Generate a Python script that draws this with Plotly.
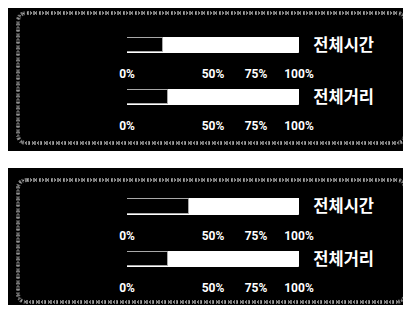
import plotly.graph_objects as go

# ---- data ----
categories = ["전체시간", "전체거리"]
panel1_values = [21, 24]
panel2_values = [36, 24]
full_value = 100
tick_vals = [0, 50, 75, 100]
tick_labels = ["0%", "50%", "75%", "100%"]

# page body margin offset (8px) -> figure sized to fit the 411x309 window
OX, OY = 8, 8
W, H = 411 - OX, 309 - OY

def px(x):
    return (x - OX) / W

def py(y):
    return 1 - (y - OY) / H

# bar pixel rows (top, bottom) in screenshot coordinates
bar_rows = [(37, 53), (89, 105), (198, 215), (251, 267)]
values = panel1_values + panel2_values
labels = categories + categories

fig = go.Figure()
tick_font = dict(family="Roboto, sans-serif", size=12, color="white", weight="bold")
label_font = dict(family="Noto Sans CJK KR, sans-serif", size=16.5, color="white", weight="bold")

for i, (val, lab, (t, b)) in enumerate(zip(values, labels, bar_rows)):
    n = i + 1
    xa = "x" if n == 1 else f"x{n}"
    ya = "y" if n == 1 else f"y{n}"
    fig.add_trace(go.Bar(x=[full_value], y=[lab], orientation="h", xaxis=xa, yaxis=ya,
                         marker=dict(color="white", line=dict(color="white", width=1)),
                         width=1, cliponaxis=False, showlegend=False, hoverinfo="skip"))
    fig.add_trace(go.Bar(x=[val], y=[lab], orientation="h", xaxis=xa, yaxis=ya,
                         marker=dict(color="black", line=dict(color="#a8a8a8", width=1)),
                         width=0.92, cliponaxis=False, showlegend=False, hoverinfo="skip"))
    xk = "xaxis" if n == 1 else f"xaxis{n}"
    yk = "yaxis" if n == 1 else f"yaxis{n}"
    fig.layout[xk] = dict(domain=[px(127), px(299)], range=[0, 100], anchor=ya,
                          tickvals=tick_vals, ticktext=tick_labels, ticks="outside",
                          ticklen=10, tickcolor="black", showgrid=False, zeroline=False,
                          showline=False, tickfont=tick_font, fixedrange=True, automargin=False)
    fig.layout[yk] = dict(domain=[py(b), py(t)], range=[-0.5, 0.5], anchor=xa, side="right",
                          ticks="outside", ticklen=10, tickcolor="black", showgrid=False,
                          zeroline=False, showline=False, tickfont=label_font, fixedrange=True,
                          automargin=False)

# panels (black background with dithered grey rounded frame)
shapes = []
def rounded(x0, y0, x1, y1, r):
    X0, X1 = px(x0), px(x1)
    Y0, Y1 = py(y0), py(y1)
    rx, ry = r / W, r / H
    return (f"M {X0+rx},{Y0} L {X1-rx},{Y0} Q {X1},{Y0} {X1},{Y0-ry} "
            f"L {X1},{Y1+ry} Q {X1},{Y1} {X1-rx},{Y1} L {X0+rx},{Y1} "
            f"Q {X0},{Y1} {X0},{Y1+ry} L {X0},{Y0-ry} Q {X0},{Y0} {X0+rx},{Y0} Z")

for (t, b), (ft, fb) in [((6, 151), (13, 143)), ((168, 305), (180, 302))]:
    shapes.append(dict(type="rect", xref="paper", yref="paper", x0=px(8), x1=1,
                       y0=py(b), y1=py(t), fillcolor="black", line=dict(width=0), layer="below"))
    shapes.append(dict(type="path", xref="paper", yref="paper", path=rounded(18, ft, 405, fb, 9),
                       line=dict(color="#777777", width=4, dash="2px,1px,1px,2px"), layer="below"))
    shapes.append(dict(type="path", xref="paper", yref="paper", path=rounded(18, ft, 405, fb, 9),
                       line=dict(color="#bbbbbb", width=1.5, dash="1px,3px"), layer="below"))

fig.update_layout(width=W, height=H, margin=dict(l=0, r=0, t=0, b=0, pad=0),
                  paper_bgcolor="white", plot_bgcolor="rgba(0,0,0,0)",
                  barmode="overlay", bargap=0, shapes=shapes)

fig.write_html("out.html", config={"displayModeBar": False})
